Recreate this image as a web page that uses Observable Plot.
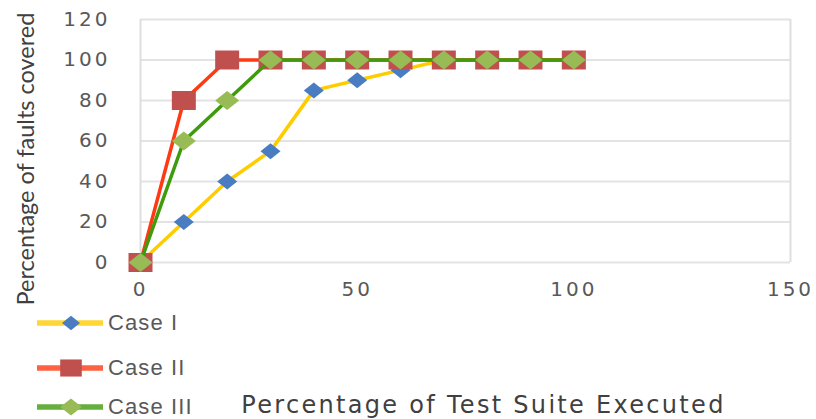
<!DOCTYPE html>
<html>
<head>
<meta charset="utf-8">
<script src="https://cdn.jsdelivr.net/npm/d3@7"></script>
<script src="https://cdn.jsdelivr.net/npm/@observablehq/plot@0.6"></script>
<style>
  body { margin: 0; background: #fff; }
  #chart { position: relative; width: 816px; height: 419px; overflow: hidden; }
  #chart svg.plot { display: block; }
  #chart g[aria-label="y-axis tick label"] text,
  #chart g[aria-label="x-axis tick label"] text { letter-spacing: 3px; }
  #chart .x-title text { letter-spacing: 2.3px; }
  .legend { position: absolute; left: 37px; top: 0; font-family: "Liberation Sans", sans-serif; font-size: 22px; letter-spacing: 1.1px; color: #595959; }
  .legend .item { position: absolute; left: 0; display: flex; align-items: center; white-space: nowrap; height: 24px; }
  .legend svg { display: block; margin-right: 5px; }
</style>
</head>
<body>
<div id="chart"></div>
<script>
// Share of the test suite executed (%)
const executed = [0, 10, 20, 30, 40, 50, 60, 70, 80, 90, 100];
// Share of faults covered (%) for each prioritisation case
const caseI   = [0, 20, 40, 55, 85, 90, 95, 100, 100, 100, 100];
const caseII  = [0, 80, 100, 100, 100, 100, 100, 100, 100, 100, 100];
const caseIII = [0, 60, 80, 100, 100, 100, 100, 100, 100, 100, 100];

const seriesNames = ["Case I", "Case II", "Case III"];
const yTicks = [0, 20, 40, 60, 80, 100, 120];
const xTicks = [0, 50, 100, 150];
const yTitle = "Percentage of faults covered";
const xTitle = "Percentage of Test Suite Executed";

// marker shapes, slightly wider than tall
const shape = (pts) => ({
  draw(ctx) {
    ctx.moveTo(pts[0][0], pts[0][1]);
    for (const [px, py] of pts.slice(1)) ctx.lineTo(px, py);
    ctx.closePath();
  }
});
const diamondSmall = shape([[-10, 0], [0, -8], [10, 0], [0, 8]]);
const squareWide   = shape([[-12, -9.5], [12, -9.5], [12, 9.5], [-12, 9.5]]);
const diamondWide  = shape([[-12, 0], [0, -9.5], [12, 0], [0, 9.5]]);

const styles = [
  { line: "#FFCC00", marker: "#4A7CC2", symbol: diamondSmall },
  { line: "#FF3A12", marker: "#C0504D", symbol: squareWide },
  { line: "#3E9B0C", marker: "#98BB55", symbol: diamondWide }
];
const values = [caseI, caseII, caseIII];

const series = seriesNames.map((name, s) =>
  executed.map((x, i) => ({ series: name, x, y: values[s][i] }))
);

const fontTicks = "DejaVu Sans, sans-serif";

const plot = Plot.plot({
  width: 816,
  height: 419,
  marginLeft: 140,
  marginRight: 26,
  marginTop: 19,
  marginBottom: 157,
  style: { background: "#fff", color: "#595959", overflow: "visible" },
  x: { domain: [0, 150] },
  y: { domain: [0, 120] },
  marks: [
    Plot.ruleY(yTicks, { stroke: "#e3e3e3", strokeWidth: 2 }),
    Plot.ruleX([0, 150], { stroke: "#dedede", strokeWidth: 2 }),
    Plot.axisY({ ticks: yTicks, tickSize: 0, tickPadding: 30, fontSize: 20, fontFamily: fontTicks, label: null }),
    Plot.axisX({ ticks: xTicks, tickSize: 0, tickPadding: 19, fontSize: 20, fontFamily: fontTicks, label: null }),
    ...series.flatMap((rows, s) => [
      Plot.line(rows, { x: "x", y: "y", stroke: styles[s].line, strokeWidth: 3.5 }),
      Plot.dot(rows, { x: "x", y: "y", symbol: styles[s].symbol, fill: styles[s].marker, stroke: "none" })
    ]),
    Plot.text([yTitle], {
      frameAnchor: "left", textAnchor: "middle", rotate: -90, dx: -114, dy: 18,
      fontSize: 23.5, fontFamily: "Lato, sans-serif", fill: "#404040", className: "y-title"
    }),
    Plot.text([xTitle], {
      frameAnchor: "bottom", textAnchor: "middle", dx: 18, dy: 150,
      fontSize: 24, fontFamily: fontTicks, fill: "#404040", className: "x-title"
    })
  ]
});

const chart = document.getElementById("chart");
chart.appendChild(plot);

// legend drawn below the plot area, one entry per series
const legend = document.createElement("div");
legend.className = "legend";
const legendTops = [311, 356, 395];
seriesNames.forEach((name, s) => {
  const item = document.createElement("div");
  item.className = "item";
  item.style.top = legendTops[s] + "px";
  const sw = d3.create("svg").attr("width", 66).attr("height", 24);
  sw.append("line").attr("x1", 0).attr("x2", 66).attr("y1", 12).attr("y2", 12)
    .attr("stroke", styles[s].line).attr("stroke-width", 5.5).attr("stroke-opacity", 0.8);
  const p = d3.path();
  styles[s].symbol.draw(p);
  sw.append("path").attr("d", p.toString()).attr("transform", "translate(34,12) scale(0.9)")
    .attr("fill", styles[s].marker);
  item.appendChild(sw.node());
  const label = document.createElement("span");
  label.textContent = name;
  item.appendChild(label);
  legend.appendChild(item);
});
chart.appendChild(legend);
</script>
</body>
</html>
